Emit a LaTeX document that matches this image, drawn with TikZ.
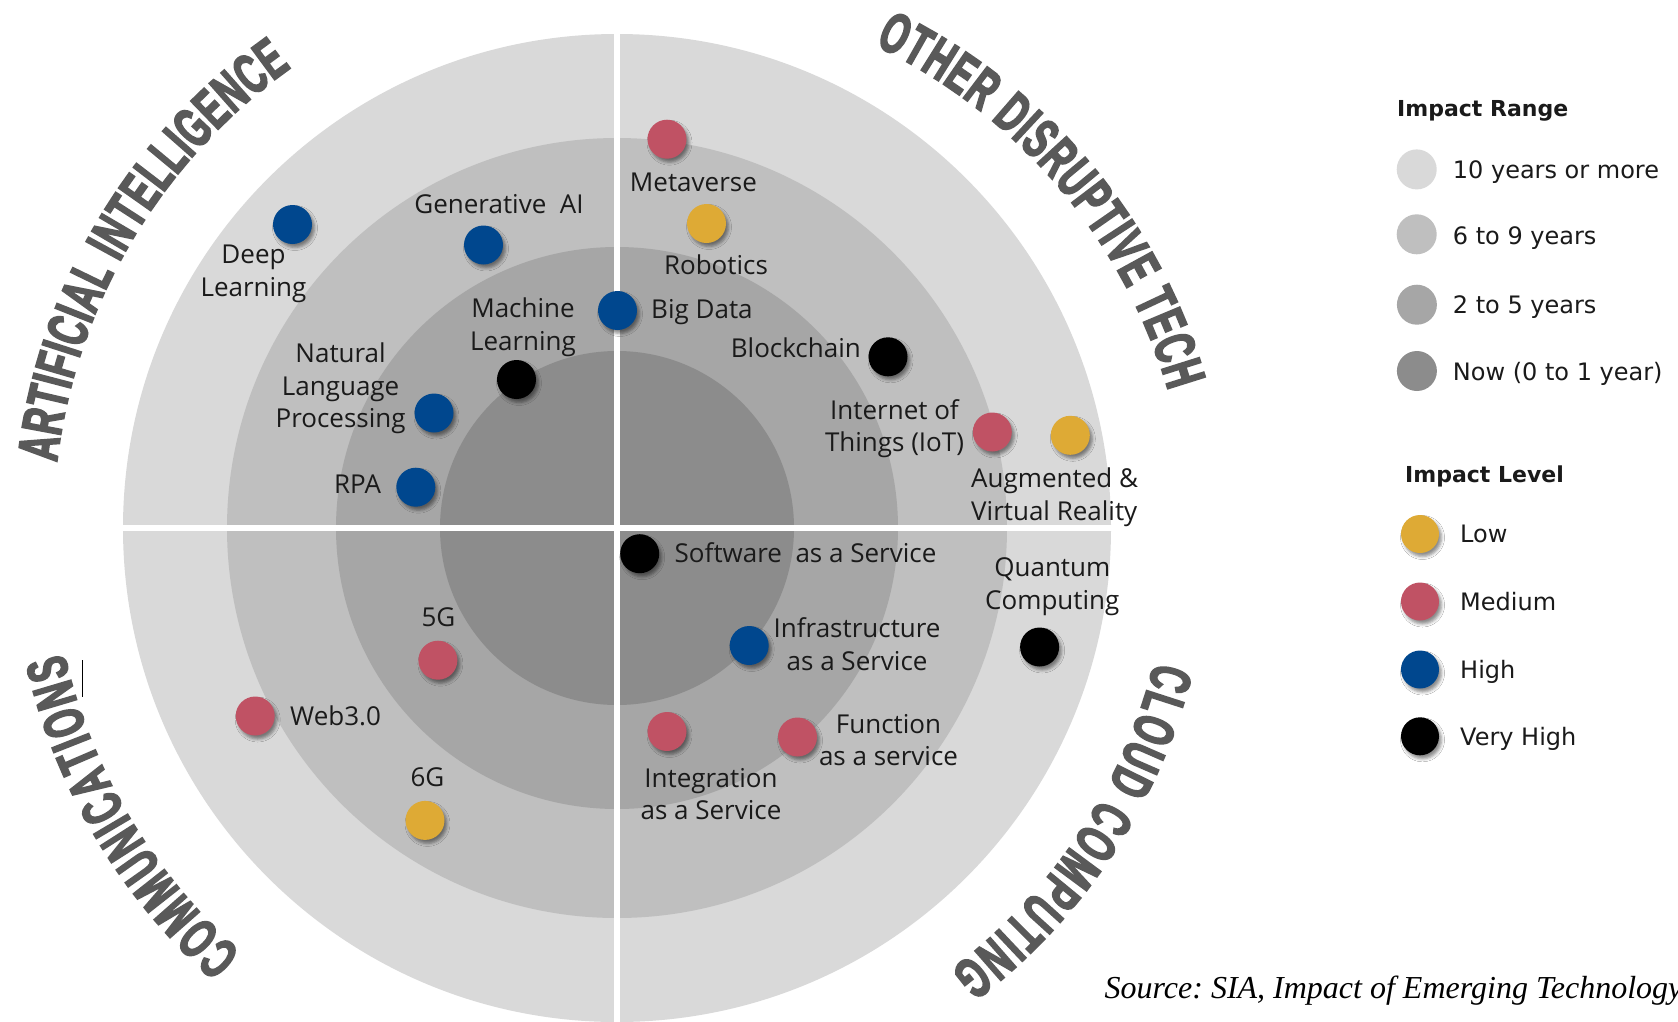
\documentclass[tikz,border=0pt]{standalone}
\usepackage{fontspec}
\setmainfont{Open Sans}
\newfontfamily\legendfont{DejaVu Sans}
\newfontfamily\sourcefont{Liberation Serif}
\newfontfamily\sectorfont[FakeStretch=0.6,FakeBold=3]{Liberation Sans}
\usetikzlibrary{calc,decorations.text,shadows.blur}

\definecolor{ringA}{HTML}{D9D9D9}
\definecolor{ringB}{HTML}{BFBFBF}
\definecolor{ringC}{HTML}{A6A6A6}
\definecolor{ringD}{HTML}{8C8C8C}
\definecolor{lowC}{HTML}{DEAA35}
\definecolor{medC}{HTML}{C05264}
\definecolor{highC}{HTML}{00478E}
\definecolor{vhighC}{HTML}{000000}
\definecolor{secGray}{HTML}{595959}
\definecolor{labelC}{HTML}{1A1A1A}

\tikzset{
  lbl/.style={font=\fontsize{26}{32.5}\selectfont, inner sep=0pt, align=center, text=labelC},
  dot/.style={circle, inner sep=0pt, minimum size=39pt,
    blur shadow={shadow xshift=2.5pt, shadow yshift=-3.5pt, shadow blur radius=3pt, shadow opacity=45}},
  swatch/.style={circle, inner sep=0pt, minimum size=40pt},
  legtitle/.style={font=\legendfont\bfseries\fontsize{22}{26}\selectfont, inner sep=0pt, anchor=base west, text=labelC},
  legtext/.style={font=\legendfont\fontsize{24}{28}\selectfont, inner sep=0pt, anchor=base west, text=labelC},
  sector/.style={decorate, decoration={text along path, text align={fit to path}, text color=secGray,
    text={|\sectorfont\bfseries\fontsize{57}{57}\selectfont|#1}}}
}

\begin{document}
\begin{tikzpicture}[x=1pt,y=1pt]
  \useasboundingbox (0,0) rectangle (1678,-1021);
  \fill[white] (0,0) rectangle (1678,-1021);
  \coordinate (C) at (617,-528);

  % concentric impact-range rings
  \fill[ringA] (C) circle[radius=494];
  \fill[ringB] (C) circle[radius=390];
  \fill[ringC] (C) circle[radius=281];
  \fill[ringD] (C) circle[radius=177];

  % quadrant separators
  \fill[white] (614,-20) rectangle (620,-1030);
  \fill[white] (110,-525) rectangle (1125,-531);

  % sector titles along arcs
  \path[sector={ARTIFICIAL INTELLIGENCE}] ($(C)+(173.3:564)$) arc[start angle=173.3, end angle=125.3, radius=564];
  \path[sector={OTHER DISRUPTIVE TECH}] ($(C)+(19.3,-17.2)+(64.5:554)$) arc[start angle=64.5, end angle=16.2, radius=554];
  \path[sector={COMMUNICATIONS}] ($(C)+(228.5:567)$) arc[start angle=228.5, end angle=192.8, radius=567];
  \path[sector={CLOUD COMPUTING}] ($(C)+(-14:554)$) arc[start angle=-14, end angle=-53, radius=554];

  % text cursor mark
  \draw[line width=1.3pt] (82.5,-660) -- (82.5,-697);

  % technology labels
  \node[lbl] (tDL) at (253.5,-274) {Deep\\Learning};
  \node[lbl, anchor=base] (tGen) at (499,-213) {Generative~~AI};
  \node[lbl] (tML) at (523,-327) {Machine\\Learning};
  \node[lbl] (tNLP) at (340.6,-388.5) {Natural\\Language\\Processing};
  \node[lbl, anchor=base] (tRPA) at (357.6,-493) {RPA};
  \node[lbl, anchor=base] (tMeta) at (693.4,-191.5) {Metaverse};
  \node[lbl, anchor=base] (tRob) at (716,-274) {Robotics};
  \node[lbl, anchor=base west] (tBig) at (651,-318) {Big Data};
  \node[lbl, anchor=base east] (tBlock) at (861,-357) {Blockchain};
  \node[lbl] (tIoT) at (894.5,-428.5) {Internet of\\Things (IoT)};
  \node[lbl, align=left] (tAR) at (1054.6,-497) {Augmented \&\\Virtual Reality};
  \node[lbl, anchor=base west] (tSaaS) at (674.5,-562) {Software~~as a Service};
  \node[lbl] (tQC) at (1052.3,-586.5) {Quantum\\Computing};
  \node[lbl] (tIaaS) at (857.1,-644) {Infrastructure\\as a Service};
  \node[lbl] (tInt) at (711,-794) {Integration\\as a Service};
  \node[lbl] (tFun) at (888.5,-740) {Function\\as a service};
  \node[lbl, anchor=base] (t5G) at (438.4,-626) {5G};
  \node[lbl, anchor=base west] (tWeb) at (290,-725) {Web3.0};
  \node[lbl, anchor=base] (t6G) at (427.4,-786) {6G};

  % technology markers (colour = impact level)
  \node[dot, fill=highC] (dDL) at (292.5,-224.5) {};
  \node[dot, fill=highC] (dGen) at (483.5,-245) {};
  \node[dot, fill=highC] (dBig) at (617.5,-310.5) {};
  \node[dot, fill=vhighC] (dML) at (516.5,-379.5) {};
  \node[dot, fill=highC] (dNLP) at (434,-413) {};
  \node[dot, fill=highC] (dRPA) at (415.8,-487.2) {};
  \node[dot, fill=medC] (dMeta) at (667,-139.2) {};
  \node[dot, fill=lowC] (dRob) at (706.5,-223.5) {};
  \node[dot, fill=vhighC] (dBlock) at (888,-356.8) {};
  \node[dot, fill=medC] (dIoT) at (992.3,-432) {};
  \node[dot, fill=lowC] (dAR) at (1070.3,-435.3) {};
  \node[dot, fill=vhighC] (dSaaS) at (639.7,-553.7) {};
  \node[dot, fill=vhighC] (dQC) at (1039.6,-647) {};
  \node[dot, fill=highC] (dIaaS) at (749.2,-645.5) {};
  \node[dot, fill=medC] (dInt) at (667,-731.5) {};
  \node[dot, fill=medC] (dFun) at (797.5,-737) {};
  \node[dot, fill=medC] (d5G) at (437.9,-660.2) {};
  \node[dot, fill=medC] (dWeb) at (255.2,-716) {};
  \node[dot, fill=lowC] (d6G) at (425,-820.4) {};

  % legend: impact range
  \node[legtitle] (lgRange) at (1397,-116) {Impact Range};
  \node[swatch, fill=ringA] (sw1) at (1416.7,-169.4) {};
  \node[swatch, fill=ringB] (sw2) at (1416.7,-234.3) {};
  \node[swatch, fill=ringC] (sw3) at (1416.9,-304.7) {};
  \node[swatch, fill=ringD] (sw4) at (1416.9,-371) {};
  \node[legtext] (lr1) at (1452.7,-178) {10 years or more};
  \node[legtext] (lr2) at (1452.7,-244.5) {6 to 9 years};
  \node[legtext] (lr3) at (1452.7,-313) {2 to 5 years};
  \node[legtext] (lr4) at (1452.7,-380) {Now (0 to 1 year)};

  % legend: impact level
  \node[legtitle] (lgLevel) at (1405,-482) {Impact Level};
  \node[dot, minimum size=38pt, fill=lowC] (lv1) at (1420,-534) {};
  \node[dot, minimum size=38pt, fill=medC] (lv2) at (1420,-601.5) {};
  \node[dot, minimum size=38pt, fill=highC] (lv3) at (1420,-669.5) {};
  \node[dot, minimum size=38pt, fill=vhighC] (lv4) at (1420,-736.3) {};
  \node[legtext] (ll1) at (1460,-542.7) {Low};
  \node[legtext] (ll2) at (1460,-610.2) {Medium};
  \node[legtext] (ll3) at (1460,-678.2) {High};
  \node[legtext] (ll4) at (1460,-745) {Very High};

  % source note
  \node[anchor=base west, inner sep=0pt, font=\sourcefont\itshape\frenchspacing\fontsize{32}{36}\selectfont] (src)
    at (1104.5,-998) {Source: SIA, Impact of Emerging Technology};
\end{tikzpicture}
\end{document}
